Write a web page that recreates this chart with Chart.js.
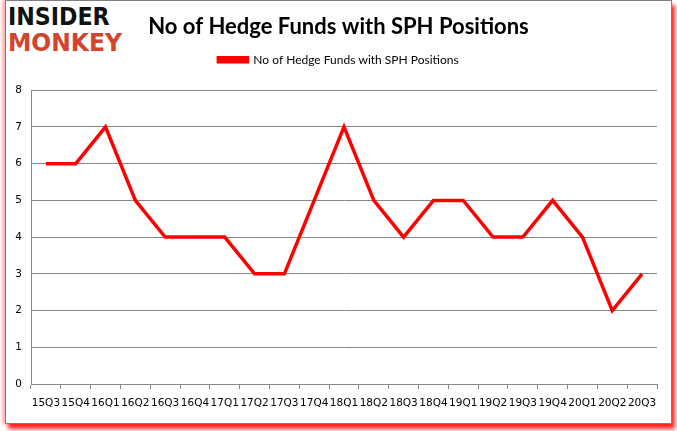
<!DOCTYPE html>
<html>
<head>
<meta charset="utf-8">
<script src="https://cdn.jsdelivr.net/npm/chart.js@4"></script>
<style>
    html, body { margin: 0; padding: 0; background: #fff; }
    #wrap { position: relative; width: 677px; height: 431px; overflow: hidden; }
    #frame {
        position: absolute; left: 5px; top: 0; width: 665px; height: 422px;
        border: 1px solid #7f7f7f; background: #fff;
        box-shadow: -3px 0 3px rgba(255, 0, 0, 0.3), 3px 5px 4px rgba(255, 0, 0, 0.85);
    }
    #seis_chart { position: absolute; left: 0; top: 0; }
    .logo { position: absolute; left: 8px; font-family: "DejaVu Sans"; font-weight: bold; white-space: nowrap; transform-origin: 0 0; line-height: 1; }
    #logo1 { top: 4px; color: #111; font-size: 30px; }
    #logo2 { top: 30px; color: #d4432c; font-size: 30px; }
</style>
</head>
<body>
<div id="wrap">
    <div id="frame"></div>
    <div class="logo" id="logo1">INSIDER</div>
    <div class="logo" id="logo2">MONKEY</div>
    <canvas id="seis_chart" width="677" height="431"></canvas>
</div>
<script>
var quarters = ['15Q3','15Q4','16Q1','16Q2','16Q3','16Q4','17Q1','17Q2','17Q3','17Q4','18Q1',
                '18Q2','18Q3','18Q4','19Q1','19Q2','19Q3','19Q4','20Q1','20Q2','20Q3'];
var fundCount = [6,6,7,5,4,4,4,3,3,5,7,5,4,5,5,4,4,5,4,2,3];
var seriesName = 'No of Hedge Funds with SPH Positions';
var gridColor = '#868686';

// squeeze the logo words to the width they have in the picture
function fitLogo(id, w) {
    var el = document.getElementById(id);
    el.style.transform = 'scale(' + (w / el.offsetWidth) + ', 0.82)';
}
fitLogo('logo1', 102);
fitLogo('logo2', 114);

var chart = new Chart(document.getElementById('seis_chart'), {
    type: 'line',
    data: {
        labels: quarters,
        datasets: [{
            label: seriesName,
            data: fundCount,
            borderColor: '#ff0000',
            backgroundColor: '#ff0000',
            borderWidth: 3.5,
            pointRadius: 0,
            tension: 0,
            fill: false
        }]
    },
    options: {
        responsive: false,
        animation: false,
        layout: { padding: { top: 0, left: 10, right: 10, bottom: 17 } },
        plugins: {
            tooltip: { enabled: false },
            title: {
                display: true,
                text: seriesName,
                color: '#000',
                font: { family: 'Lato', size: 22, weight: 'bold', lineHeight: 0.6 },
                padding: { top: 20, bottom: 0 }
            },
            legend: {
                display: true,
                labels: {
                    color: '#000',
                    font: { family: 'Lato', size: 12 },
                    boxWidth: 29,
                    boxHeight: 4,
                    padding: 20.5
                }
            }
        },
        scales: {
            x: {
                offset: true,
                grid: { display: true, drawOnChartArea: false, drawTicks: true, tickLength: 5, offset: true, color: gridColor },
                border: { display: true, color: gridColor },
                ticks: { color: '#000', autoSkip: false, maxRotation: 0, padding: 8,
                         font: { family: 'DejaVu Sans', size: 10.5 } },
                afterFit: function (s) { s.height = 30; }
            },
            // empty spacer axes: room above and right of the plot
            xTop: {
                position: 'top',
                display: true,
                grid: { display: false },
                ticks: { display: false },
                border: { display: false },
                afterFit: function (s) { s.height = 14.5; }
            },
            y: {
                min: 0,
                max: 8,
                ticks: { stepSize: 1, color: '#000', padding: 9, font: { family: 'DejaVu Sans', size: 10.5 } },
                grid: { color: gridColor, drawTicks: false },
                border: { display: true, color: gridColor },
                afterFit: function (s) { s.width = 21; }
            },
            y2: {
                position: 'right',
                display: true,
                grid: { display: false },
                ticks: { display: false },
                border: { display: false },
                afterFit: function (s) { s.width = 10; }
            }
        }
    }
});
</script>
</body>
</html>
